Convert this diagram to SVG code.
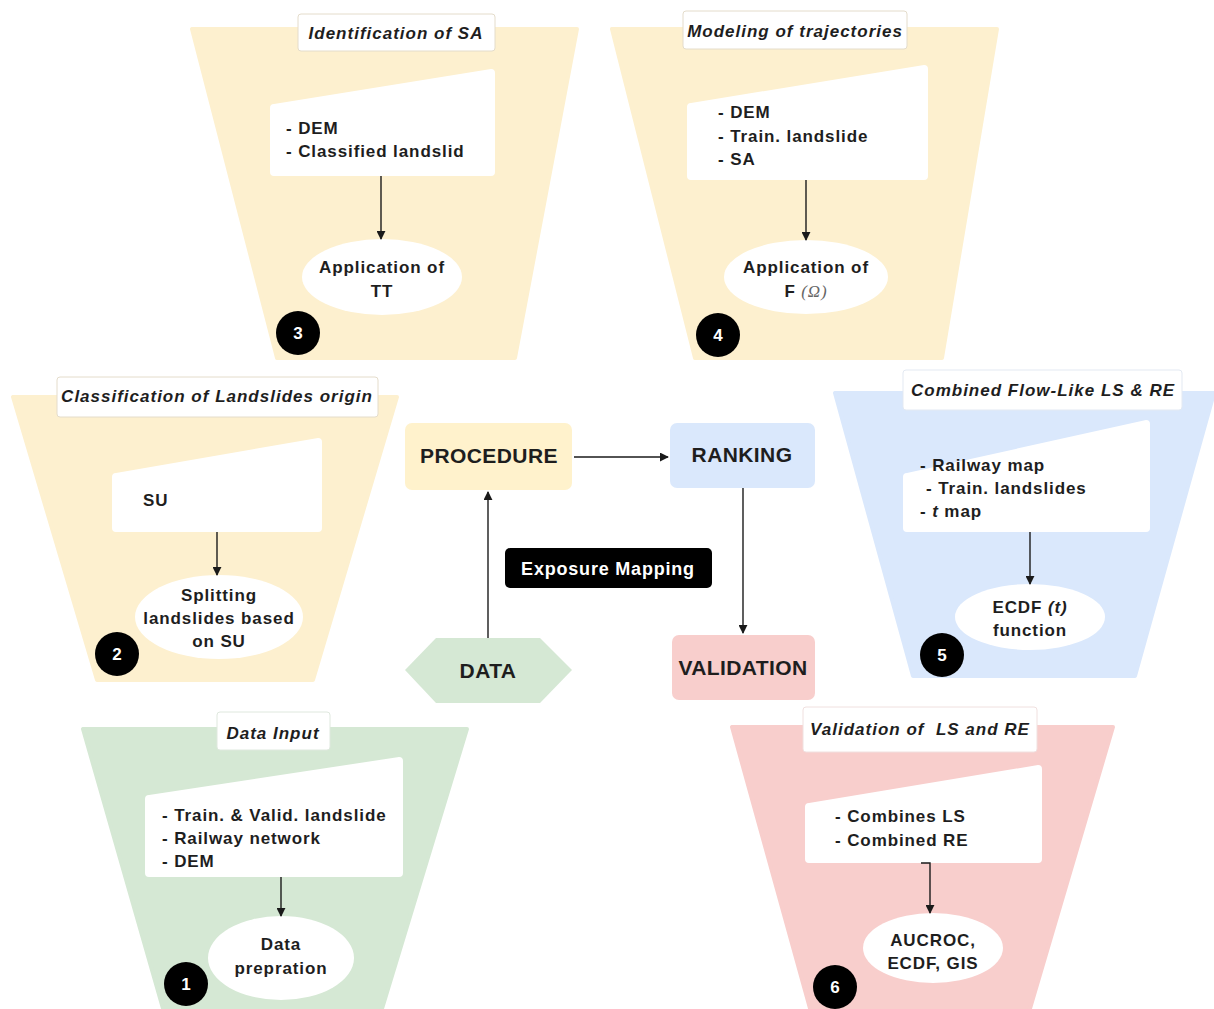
<svg xmlns="http://www.w3.org/2000/svg" width="1214" height="1009" viewBox="0 0 1214 1009">
<defs>
<style>
text{font-family:"Liberation Sans",Arial,sans-serif;fill:#1e1e1e;}
.t{font-size:17px;font-weight:bold;letter-spacing:0.9px;}
.c{text-anchor:middle;}
.ttl{font-size:17px;font-weight:bold;font-style:italic;letter-spacing:1px;text-anchor:middle;}
.big{font-size:21px;font-weight:bold;letter-spacing:0.4px;text-anchor:middle;}
.num{font-size:17px;font-weight:bold;fill:#fff;text-anchor:middle;}
.lbl{fill:#fff;stroke:#e4dccb;stroke-width:1;}
.wb{fill:#fff;stroke:none;}
.yel{fill:#fdf0cf;}
.grn{fill:#d5e8d4;}
.blu{fill:#dae8fc;}
.red{fill:#f8cecc;}
.dot{fill:#000;}
.ln{stroke:#1a1a1a;stroke-width:1.4;fill:none;marker-end:url(#ah);}
</style>
<marker id="ah" viewBox="0 0 10 10" refX="9" refY="5" markerWidth="9" markerHeight="9" markerUnits="userSpaceOnUse" orient="auto">
<path d="M0,0 L10,5 L0,10 Z" fill="#1a1a1a"/>
</marker>
</defs>
<rect width="1214" height="1009" fill="#fff"/>

<g id="panel3">
<polygon class="yel" points="192,29 577,29 515,358 277,358" stroke="#fdf0cf" stroke-width="4" stroke-linejoin="round"/>
<rect class="lbl" x="298" y="14" width="197" height="37" rx="3"/>
<text class="ttl" x="396" y="39">Identification of SA</text>
<path class="wb" d="M274,104 L491,69 Q495,69 495,73 L495,172 Q495,176 491,176 L274,176 Q270,176 270,172 L270,108 Q270,104 274,104 Z"/>
<text class="t" x="286" y="134">- DEM</text>
<text class="t" x="286" y="157">- Classified landslid</text>
<ellipse cx="382" cy="277" rx="80" ry="38" fill="#fff"/>
<text class="t c" x="382" y="273">Application of</text>
<text class="t c" x="382" y="297">TT</text>
<circle class="dot" cx="298" cy="333" r="22"/>
<text class="num" x="298" y="339">3</text>
</g>

<g id="panel4">
<polygon class="yel" points="612,29 997,29 942,358 695,358" stroke="#fdf0cf" stroke-width="4" stroke-linejoin="round"/>
<rect class="lbl" x="683" y="11" width="224" height="38" rx="3"/>
<text class="ttl" x="795" y="37">Modeling of trajectories</text>
<path class="wb" d="M691,103 L924,65 Q928,65 928,69 L928,176 Q928,180 924,180 L691,180 Q687,180 687,176 L687,107 Q687,103 691,103 Z"/>
<text class="t" x="718" y="118">- DEM</text>
<text class="t" x="718" y="142">- Train. landslide</text>
<text class="t" x="718" y="165">- SA</text>
<ellipse cx="806" cy="277" rx="82" ry="37" fill="#fff"/>
<text class="t c" x="806" y="273">Application of</text>
<text class="t c" x="806" y="297">F <tspan font-family="Liberation Serif,serif" font-style="italic" font-weight="normal" fill="#666">(Ω)</tspan></text>
<circle class="dot" cx="718" cy="335" r="22"/>
<text class="num" x="718" y="341">4</text>
</g>

<g id="panel2">
<polygon class="yel" points="13,397 397,397 313,680 97,680" stroke="#fdf0cf" stroke-width="4" stroke-linejoin="round"/>
<rect class="lbl" x="57" y="377" width="321" height="40" rx="3"/>
<text class="ttl" x="217" y="402">Classification of Landslides origin</text>
<path class="wb" d="M116,473 L318,438 Q322,438 322,442 L322,528 Q322,532 318,532 L116,532 Q112,532 112,528 L112,477 Q112,473 116,473 Z"/>
<text class="t" x="143" y="506">SU</text>
<ellipse cx="219" cy="617" rx="84" ry="42" fill="#fff"/>
<text class="t c" x="219" y="601">Splitting</text>
<text class="t c" x="219" y="624">landslides based</text>
<text class="t c" x="219" y="647">on SU</text>
<circle class="dot" cx="117" cy="654" r="22"/>
<text class="num" x="117" y="660">2</text>
</g>

<g id="panel5">
<polygon class="blu" points="835,393 1214,393 1135,676 913,676" stroke="#dae8fc" stroke-width="4" stroke-linejoin="round"/>
<rect class="lbl" x="903" y="370" width="279" height="40" rx="3" style="stroke:#e3e9f2"/>
<text class="ttl" x="1043" y="396">Combined Flow-Like LS &amp; RE</text>
<path class="wb" d="M907,473 L1146,420 Q1150,420 1150,424 L1150,528 Q1150,532 1146,532 L907,532 Q903,532 903,528 L903,477 Q903,473 907,473 Z"/>
<text class="t" x="920" y="471">- Railway map</text>
<text class="t" x="926" y="494">- Train. landslides</text>
<text class="t" x="920" y="517">- <tspan font-style="italic">t</tspan> map</text>
<ellipse cx="1030" cy="617" rx="75" ry="33" fill="#fff"/>
<text class="t c" x="1030" y="613">ECDF <tspan font-style="italic">(t)</tspan></text>
<text class="t c" x="1030" y="636">function</text>
<circle class="dot" cx="942" cy="655" r="22"/>
<text class="num" x="942" y="661">5</text>
</g>

<g id="panel1">
<polygon class="grn" points="83,729 467,729 381,1012 164,1012" stroke="#d5e8d4" stroke-width="4" stroke-linejoin="round"/>
<rect class="lbl" x="217" y="712" width="113" height="38" rx="3" style="stroke:#dfe8de"/>
<text class="ttl" x="273" y="739">Data Input</text>
<path class="wb" d="M149,795 L399,757 Q403,757 403,761 L403,873 Q403,877 399,877 L149,877 Q145,877 145,873 L145,799 Q145,795 149,795 Z"/>
<text class="t" x="162" y="821">- Train. &amp; Valid. landslide</text>
<text class="t" x="162" y="844">- Railway network</text>
<text class="t" x="162" y="867">- DEM</text>
<ellipse cx="281" cy="958" rx="73" ry="42" fill="#fff"/>
<text class="t c" x="281" y="950">Data</text>
<text class="t c" x="281" y="974">prepration</text>
<circle class="dot" cx="186" cy="984" r="22"/>
<text class="num" x="186" y="990">1</text>
</g>

<g id="panel6">
<polygon class="red" points="732,727 1113,727 1029,1012 811,1012" stroke="#f8cecc" stroke-width="4" stroke-linejoin="round"/>
<rect class="lbl" x="803" y="707" width="234" height="45" rx="3" style="stroke:#f0e0df"/>
<text class="ttl" x="920" y="735">Validation of&#160; LS and RE</text>
<path class="wb" d="M809,803 L1038,765 Q1042,765 1042,769 L1042,859 Q1042,863 1038,863 L809,863 Q805,863 805,859 L805,807 Q805,803 809,803 Z"/>
<text class="t" x="835" y="822">- Combines LS</text>
<text class="t" x="835" y="846">- Combined RE</text>
<ellipse cx="933" cy="948" rx="70" ry="35" fill="#fff"/>
<text class="t c" x="933" y="946">AUCROC,</text>
<text class="t c" x="933" y="969">ECDF, GIS</text>
<circle class="dot" cx="835" cy="987" r="22"/>
<text class="num" x="835" y="993">6</text>
</g>

<g id="procedure">
<rect x="405" y="423" width="167" height="67" rx="7" fill="#fff2cc"/>
<text class="big" x="489" y="463">PROCEDURE</text>
</g>
<g id="ranking">
<rect x="670" y="423" width="145" height="65" rx="7" fill="#dae8fc"/>
<text class="big" x="742" y="462">RANKING</text>
</g>
<g id="validation">
<rect x="672" y="635" width="143" height="65" rx="7" fill="#f8cecc"/>
<text class="big" x="743" y="675">VALIDATION</text>
</g>
<g id="data">
<polygon points="405,670 436,638 540,638 572,670 540,703 436,703" fill="#d5e8d4"/>
<text class="big" x="488" y="678">DATA</text>
</g>
<g id="exposure">
<rect x="505" y="548" width="207" height="40" rx="5" fill="#000"/>
<text x="608" y="575" text-anchor="middle" font-size="18" font-weight="bold" letter-spacing="0.8" style="fill:#fff">Exposure Mapping</text>
</g>

<g id="connectors">
<line class="ln" x1="574" y1="457" x2="668" y2="457"/>
<line class="ln" x1="488" y1="638" x2="488" y2="492"/>
<line class="ln" x1="743" y1="488" x2="743" y2="633"/>
<line class="ln" x1="381" y1="176" x2="381" y2="239"/>
<line class="ln" x1="806" y1="180" x2="806" y2="240"/>
<line class="ln" x1="217" y1="532" x2="217" y2="575"/>
<line class="ln" x1="1030" y1="532" x2="1030" y2="584"/>
<line class="ln" x1="281" y1="877" x2="281" y2="916"/>
<polyline class="ln" points="921,863 930,863 930,913"/>
</g>
</svg>
